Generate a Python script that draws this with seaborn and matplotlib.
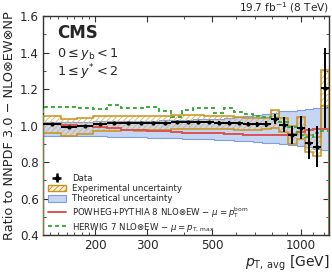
import numpy as np
import matplotlib
matplotlib.use("Agg")
import matplotlib.pyplot as plt
import seaborn as sns
from matplotlib.patches import Patch
from matplotlib.lines import Line2D

sns.set_theme(style="ticks")
plt.rcParams['font.family'] = ['DejaVu Sans']
plt.rcParams['hatch.linewidth'] = 0.6
plt.rcParams['mathtext.fontset'] = 'dejavusans'

# bin edges (GeV)
edges = [133, 153, 174, 196, 220, 245, 272, 300, 330, 362, 395, 430, 468, 507,
         548, 592, 638, 686, 737, 790, 846, 905, 967, 1032, 1101, 1172, 1248]
data = [1.007, 0.990, 1.000, 1.010, 1.012, 1.015, 1.013, 1.015, 1.015, 1.018,
        1.020, 1.020, 1.018, 1.015, 1.015, 1.012, 1.010, 1.008, 1.010, 1.035,
        1.005, 0.948, 0.988, 0.902, 0.885, 1.205]
stat = [0.004, 0.004, 0.004, 0.004, 0.004, 0.004, 0.004, 0.005, 0.005, 0.005,
        0.006, 0.006, 0.007, 0.008, 0.009, 0.010, 0.012, 0.014, 0.017, 0.028,
        0.040, 0.050, 0.064, 0.085, 0.110, 0.220]
exp_unc = [0.045, 0.046, 0.044, 0.042, 0.041, 0.040, 0.040, 0.039, 0.038, 0.038,
           0.037, 0.037, 0.036, 0.036, 0.035, 0.034, 0.033, 0.032, 0.030, 0.050,
           0.038, 0.050, 0.060, 0.045, 0.050, 0.100]
theo_hi = [1.020, 1.021, 1.022, 1.023, 1.024, 1.025, 1.026, 1.027, 1.028, 1.030,
           1.032, 1.034, 1.036, 1.038, 1.041, 1.045, 1.050, 1.058, 1.064, 1.070,
           1.078, 1.082, 1.086, 1.092, 1.096, 1.098]
theo_lo = [0.945, 0.945, 0.944, 0.942, 0.940, 0.938, 0.936, 0.934, 0.932, 0.930,
           0.928, 0.926, 0.924, 0.922, 0.920, 0.917, 0.914, 0.910, 0.906, 0.902,
           0.897, 0.892, 0.886, 0.880, 0.873, 0.866]
powheg = [1.010, 1.005, 0.995, 0.990, 0.985, 0.978, 0.975, 0.972, 0.968, 0.965,
          0.962, 0.962, 0.960, 0.958, 0.955, 0.952, 0.950, 0.948, 0.948, 0.948,
          0.950, 0.955, 0.965, 0.975, 0.980, 0.980]
herwig = [1.100, 1.100, 1.098, 1.090, 1.115, 1.097, 1.097, 1.100, 1.079, 1.048,
          1.085, 1.094, 1.094, 1.070, 1.095, 1.076, 1.065, 1.055, 1.045, 1.040,
          1.020, 0.990, 0.950, 0.940, 0.960, 0.970]

edges_a = np.array(edges, float)
data_a = np.array(data)
exp_a = np.array(exp_unc)
centers = np.sqrt(edges_a[:-1] * edges_a[1:])

fig = plt.figure(figsize=(3.32, 2.73), dpi=100)
ax = fig.add_axes([0.1295, 0.139, 0.862, 0.802])

blue_face = '#c5d5f2'
blue_edge = '#7d9fe0'
gold = '#c8921a'
red = '#d9534f'
green = '#3aaa3a'

ax.axhline(1.0, color='#444444', lw=0.8, ls=(0, (3, 2)), zorder=1)
ax.stairs(theo_hi, edges_a, baseline=theo_lo, fill=True, color=blue_face, zorder=2)
ax.stairs(theo_hi, edges_a, color=blue_edge, lw=0.8, zorder=2.1)
ax.stairs(theo_lo, edges_a, color=blue_edge, lw=0.8, zorder=2.1)

ax.stairs(data_a + exp_a, edges_a, baseline=data_a - exp_a, fill=True,
          facecolor='none', edgecolor='#e0b050', hatch='//////', lw=0, zorder=3)
ax.stairs(data_a + exp_a, edges_a, color=gold, lw=1.1, zorder=3.1)
ax.stairs(data_a - exp_a, edges_a, color=gold, lw=1.1, zorder=3.1)

ax.stairs(powheg, edges_a, color=red, lw=1.4, zorder=4)
ax.stairs(herwig, edges_a, color=green, lw=1.4, ls=(0, (2, 1.6)), zorder=4.5)

ax.errorbar(centers, data_a, xerr=[centers - edges_a[:-1], edges_a[1:] - centers],
            yerr=stat, fmt='o', ms=2.0, color='black', elinewidth=1.4, capsize=0,
            zorder=6)

ax.set_xscale('log')
ax.set_xlim(133, 1248)
ax.set_ylim(0.4, 1.6)
ax.set_xticks([200, 300, 500, 1000])
ax.set_xticklabels(['200', '300', '500', '1000'])
ax.set_xticks([140, 150, 160, 170, 180, 190, 400, 600, 700, 800, 900, 1100, 1200], minor=True)
ax.xaxis.set_minor_formatter(matplotlib.ticker.NullFormatter())
ax.set_yticks([0.4, 0.6, 0.8, 1.0, 1.2, 1.4, 1.6])
ax.set_yticklabels(['0.4', '0.6', '0.8', '1.0', '1.2', '1.4', '1.6'])
ax.yaxis.set_minor_locator(matplotlib.ticker.MultipleLocator(0.1))
ax.tick_params(which='both', direction='in', top=True, right=True, labelsize=8.6,
               color='#333333', pad=3)
ax.tick_params(which='major', length=4, width=0.8)
ax.tick_params(which='minor', length=2.5, width=0.6)
for s in ax.spines.values():
    s.set_linewidth(1.0)
    s.set_color('#333333')

ax.set_ylabel('Ratio to NNPDF 3.0 − NLO⊗EW⊗NP', fontsize=9.3, labelpad=3)
ax.set_xlabel(r'$p_{\mathrm{T,\,avg}}$ [GeV]', fontsize=10, loc='right', labelpad=1)

ax.text(0.05, 0.925, 'CMS', transform=ax.transAxes, fontsize=12, fontweight='bold',
        va='center', ha='left')
ax.text(0.05, 0.828, r'$0 \leq y_{\mathrm{b}} < 1$', transform=ax.transAxes,
        fontsize=9.2, va='center', ha='left')
ax.text(0.05, 0.745, r'$1 \leq y^{*} < 2$', transform=ax.transAxes,
        fontsize=9.2, va='center', ha='left')
ax.text(1.0, 1.004, r'19.7 fb$^{-1}$ (8 TeV)', transform=ax.transAxes,
        fontsize=7.6, va='bottom', ha='right')

h_data = ax.errorbar([], [], xerr=[], yerr=[], fmt='o', ms=2.5, color='black',
                     elinewidth=1.8, capsize=0)
h_exp = Patch(facecolor='#fbf3e0', edgecolor=gold, hatch='//////', lw=1.0)
h_theo = Patch(facecolor=blue_face, edgecolor=blue_edge, lw=0.8)
h_pow = Line2D([], [], color=red, lw=1.4)
h_her = Line2D([], [], color=green, lw=1.4, ls=(0, (2, 1.6)))
leg = ax.legend([h_data, h_exp, h_theo, h_pow, h_her],
                ['Data', 'Experimental uncertainty', 'Theoretical uncertainty',
                 r'POWHEG+PYTHIA 8 NLO⊗EW $-$ $\mu = p_{\mathrm{T}}^{\mathrm{born}}$',
                 r'HERWIG 7 NLO⊗EW $-$ $\mu = p_{\mathrm{T,\,max}}$'],
                loc='lower left', bbox_to_anchor=(0.0, -0.015), frameon=False,
                fontsize=6.2, handlelength=2.1, handletextpad=0.7,
                labelspacing=0.15, borderaxespad=0.15, handleheight=0.8)
leg.set_zorder(10)

fig.savefig('out.png', dpi=100)
